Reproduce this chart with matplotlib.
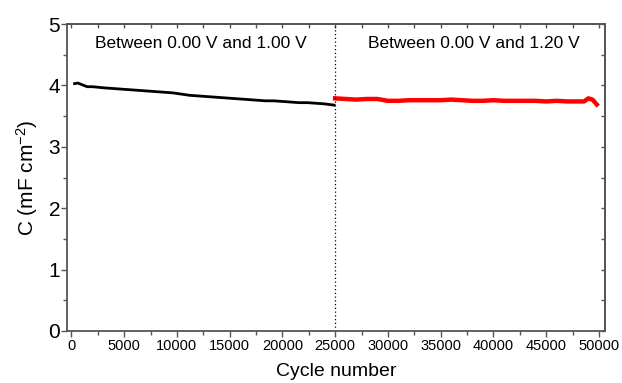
"""Capacitance retention over 50000 cycles, two voltage windows."""
import matplotlib
matplotlib.use('Agg')
import matplotlib.pyplot as plt
from matplotlib.ticker import MultipleLocator

plt.rcParams['font.family'] = ['Liberation Sans Narrow', 'Liberation Sans', 'DejaVu Sans']
plt.rcParams['mathtext.default'] = 'regular'

# window 1: 0.00-1.00 V (black)
cyc_1 = [300, 600, 900, 1200, 1500, 2000, 2600, 3200, 4000, 4800, 5600, 6400,
         7200, 8000, 8800, 9600, 10400, 11200, 12000, 12800, 13600, 14400,
         15200, 16000, 16800, 17600, 18400, 19200, 20000, 20800, 21600,
         22400, 23200, 24000, 24900]
cap_1 = [4.03, 4.04, 4.02, 4.00, 3.98, 3.98, 3.97, 3.96, 3.95, 3.94, 3.93, 3.92,
         3.91, 3.90, 3.89, 3.88, 3.86, 3.84, 3.83, 3.82, 3.81, 3.80,
         3.79, 3.78, 3.77, 3.76, 3.75, 3.75, 3.74, 3.73, 3.72,
         3.72, 3.71, 3.70, 3.68]

# window 2: 0.00-1.20 V (red)
cyc_2 = [25000, 26000, 27000, 28000, 29000, 30000, 31000, 32000, 33000, 34000,
         35000, 36000, 37000, 38000, 39000, 40000, 41000, 42000, 43000, 44000,
         45000, 46000, 47000, 48000, 48600, 49000, 49400, 49800]
cap_2 = [3.79, 3.78, 3.77, 3.78, 3.78, 3.75, 3.75, 3.76, 3.76, 3.76,
         3.76, 3.77, 3.76, 3.75, 3.75, 3.76, 3.75, 3.75, 3.75, 3.75,
         3.74, 3.75, 3.74, 3.74, 3.74, 3.79, 3.77, 3.69]

fig = plt.figure(figsize=(6.22, 3.83), dpi=100)
ax = fig.add_axes([0.108, 0.136, 0.865, 0.801])

ax.plot(cyc_1, cap_1, color='black', lw=2.0)
ax.plot(cyc_2, cap_2, color='#ff0000', lw=3.2)
ax.axvline(25000, color='black', ls=(0, (1, 2)), lw=0.9)

ax.text(12300, 4.69, 'Between 0.00 V and 1.00 V', ha='center', va='center', fontsize=12.5)
ax.text(38150, 4.69, 'Between 0.00 V and 1.20 V', ha='center', va='center', fontsize=12.5)

ax.set_xlim(-400, 50600)
ax.set_ylim(0, 5)
ax.xaxis.set_major_locator(MultipleLocator(5000))
ax.xaxis.set_minor_locator(MultipleLocator(2500))
ax.yaxis.set_major_locator(MultipleLocator(1))
ax.yaxis.set_minor_locator(MultipleLocator(0.5))

ax.tick_params(axis='x', which='both', direction='out', labelsize=10.5,
               colors='#555555', labelcolor='black', pad=2)
ax.tick_params(axis='y', which='both', direction='out', labelsize=15,
               colors='#555555', labelcolor='black', pad=1)
ax.tick_params(which='major', length=4, width=1)
ax.tick_params(which='minor', length=3, width=1)

# mirrored inward ticks on top and right
top = ax.secondary_xaxis('top')
top.xaxis.set_major_locator(MultipleLocator(2500))
top.tick_params(direction='in', length=3, width=1, colors='#555555', labeltop=False)
right = ax.secondary_yaxis('right')
right.yaxis.set_major_locator(MultipleLocator(0.5))
right.tick_params(direction='in', length=3, width=1, colors='#555555', labelright=False)
for s in list(ax.spines.values()) + [top.spines['top'], right.spines['right']]:
    s.set_color('#555555')
    s.set_linewidth(1.3)

ax.set_xlabel('Cycle number', fontsize=14, labelpad=7)
ax.set_ylabel('C (mF cm$^{-2}$)', fontsize=15, labelpad=6)

plt.savefig('out.png', dpi=100)
